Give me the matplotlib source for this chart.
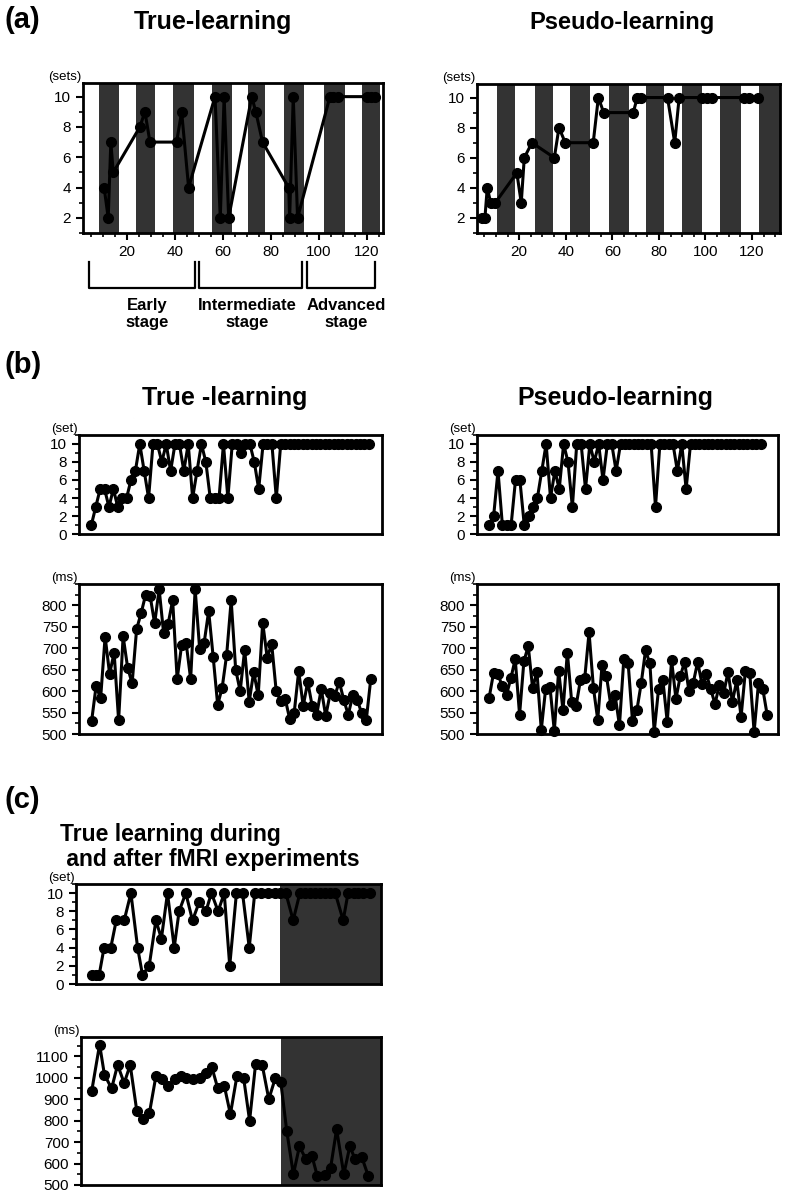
import matplotlib
matplotlib.use("Agg")
import matplotlib.pyplot as plt
from matplotlib.ticker import MultipleLocator

plt.rcParams['font.family'] = ['Liberation Sans', 'DejaVu Sans']

# ---- (a) true-learning: session number vs sets
a_true_x = [10.5, 12.2, 13.3, 14.3, 25.4, 27.5, 29.6, 40.7, 42.8, 45.7, 56.7, 58.9, 60.5, 62.4,
            72.0, 73.7, 76.5, 87.4, 87.8, 89.3, 91.1, 104.6, 106.0, 108.0, 119.9, 121.5, 123.3]
a_true_y = [4, 2, 7, 5, 8, 9, 7, 7, 9, 4, 10, 2, 10, 2, 10, 9, 7, 4, 2, 10, 2, 10, 10, 10, 10, 10, 10]
a_true_stripes = [(8.2, 16.5), (23.8, 31.7), (39.2, 47.9), (55.4, 63.9), (70.5, 77.5),
                  (85.3, 93.9), (102.1, 111.0), (118.0, 125.4)]

# ---- (a) pseudo-learning
a_pseudo_x = [4.2, 5.3, 6.3, 7.8, 9.7, 19.0, 20.9, 22.2, 25.5, 35.1, 37.1, 39.8, 51.8, 54.0,
              56.3, 69.0, 70.7, 72.5, 83.7, 86.8, 88.7, 98.3, 100.6, 103.0, 116.7, 118.8, 122.5]
a_pseudo_y = [2, 2, 4, 3, 3, 5, 3, 6, 7, 6, 8, 7, 7, 10, 9, 9, 10, 10, 10, 7, 10, 10, 10, 10, 10, 10, 10]
a_pseudo_stripes = [(10.5, 18.3), (26.6, 34.5), (42.0, 50.3), (58.4, 67.3), (74.3, 82.2),
                    (90.1, 98.4), (106.3, 115.3), (123.1, 132.0)]

stage_labels = ['Early\nstage', 'Intermediate\nstage', 'Advanced\nstage']

# ---- (b) trial series
b_true_sets = [1, 3, 5, 5, 3, 5, 3, 4, 4, 6, 7, 10, 7, 4, 10, 10, 8, 10, 7, 10, 10, 7, 10, 4, 7, 10,
               8, 4, 4, 4, 10, 4, 10, 10, 9, 10, 10, 8, 5, 10, 10, 10, 4] + [10] * 21
b_true_ms = [530, 612, 583, 727, 640, 690, 532, 728, 655, 618, 745, 782, 825, 822, 758, 838, 735,
             757, 812, 628, 708, 712, 628, 838, 698, 713, 787, 680, 568, 608, 685, 812, 650, 600,
             697, 575, 645, 590, 760, 678, 710, 600, 577, 582, 535, 550, 647, 565, 622, 565, 545,
             605, 542, 595, 588, 622, 580, 545, 590, 580, 548, 532, 628]
b_pseudo_sets = [1, 2, 7, 1, 1, 1, 6, 6, 1, 2, 3, 4, 7, 10, 4, 7, 5, 10, 8, 3, 10, 10, 5, 10, 8, 10,
                 6, 10, 10, 7] + [10] * 8 + [3] + [10] * 4 + [7, 10, 5] + [10] * 17
b_pseudo_ms = [585, 642, 640, 612, 592, 630, 675, 545, 670, 705, 607, 645, 510, 605, 610, 507, 648,
               555, 690, 575, 565, 625, 630, 737, 608, 533, 662, 635, 568, 590, 520, 675, 665, 530,
               555, 618, 695, 665, 505, 605, 625, 528, 672, 582, 635, 668, 600, 620, 668, 617, 640,
               605, 570, 615, 595, 645, 575, 625, 540, 648, 642, 505, 618, 605, 545]

# ---- (c) during / after fMRI
c_sets_x = [2.6, 3.3, 3.8, 4.6, 5.7, 6.6, 7.9, 9.0, 10.1, 10.9, 12.0, 13.1, 14.0, 15.0, 16.1, 16.9,
            18.0, 19.1, 20.2, 21.3, 22.2, 23.3, 24.3, 25.2, 26.3, 27.3, 28.4, 29.3, 30.4, 31.5,
            32.6, 33.4, 34.4, 35.6, 36.7, 37.5, 38.4, 39.2, 40.0, 40.8, 41.6, 42.5, 43.8, 44.6,
            45.5, 46.3, 47.1, 48.2]
c_sets = [1, 1, 1, 4, 4, 7, 7, 10, 4, 1, 2, 7, 5, 10, 4, 8, 10, 7, 9, 8, 10, 8, 10, 2, 10, 10, 4,
          10, 10, 10, 10, 10, 10, 7, 10, 10, 10, 10, 10, 10, 10, 10, 7, 10, 10, 10, 10, 10]
c_ms_x = [1.8, 3.1, 3.9, 5.1, 6.1, 7.2, 8.2, 9.3, 10.3, 11.4, 12.5, 13.5, 14.5, 15.6, 16.6, 17.5,
          18.6, 19.8, 20.8, 21.8, 22.8, 23.9, 24.9, 26.0, 27.1, 28.1, 29.1, 30.2, 31.3, 32.4,
          33.3, 34.3, 35.4, 36.4, 37.5, 38.5, 39.4, 40.6, 41.6, 42.6, 43.8, 44.8, 45.7, 46.8, 47.9]
c_ms = [940, 1155, 1015, 950, 1060, 975, 1060, 845, 810, 835, 1010, 995, 960, 995, 1010, 1000, 995,
        1000, 1020, 1050, 950, 960, 830, 1010, 1000, 800, 1065, 1060, 900, 1000, 980, 750, 550,
        680, 620, 635, 540, 545, 580, 760, 550, 680, 620, 630, 540]
c_shade = (33.4, 50)

DARK = '#333333'
W, H = 787, 1199
fig = plt.figure(figsize=(W / 100, H / 100), dpi=100)


def add_ax(x0, y0, x1, y1):
    return fig.add_axes([x0 / W, 1 - y1 / H, (x1 - x0) / W, (y1 - y0) / H])


def style(ax, unit):
    ax.tick_params(axis='y', which='major', direction='out', length=5, width=1.5, labelsize=11)
    ax.tick_params(axis='y', which='minor', direction='out', length=3, width=1.2)
    for s in ax.spines.values():
        s.set_linewidth(2)
    ax.text(-0.005, 1.0, unit, transform=ax.transAxes, ha='right', va='bottom', fontsize=9.5)


def series(ax, x, y):
    ax.plot(x, y, color='black', lw=2.2, marker='o', ms=7, zorder=3, clip_on=False)


def ptext(x, y, s, size, **kw):
    fig.text(x / W, 1 - y / H, s, fontsize=size, fontweight='bold', **kw)


# (a)
ptext(5, 20, '(a)', 21, va='center')
ptext(213, 22, 'True-learning', 18, ha='center', va='center')
ptext(622, 22, 'Pseudo-learning', 17, ha='center', va='center')

for rect, x, y, stripes, xlim in [((83, 83, 383, 233), a_true_x, a_true_y, a_true_stripes, (1.7, 126.7)),
                                  ((477, 84, 780, 233), a_pseudo_x, a_pseudo_y, a_pseudo_stripes, (1.9, 132))]:
    ax = add_ax(*rect)
    for lo, hi in stripes:
        ax.axvspan(lo, hi, color=DARK, lw=0, zorder=1)
    series(ax, x, y)
    ax.set_xlim(*xlim)
    ax.set_ylim(1, 10.9)
    ax.set_yticks([2, 4, 6, 8, 10])
    ax.yaxis.set_minor_locator(MultipleLocator(1))
    ax.set_xticks([20, 40, 60, 80, 100, 120])
    ax.xaxis.set_minor_locator(MultipleLocator(5))
    ax.tick_params(axis='x', which='major', direction='out', length=5, width=1.5, labelsize=11)
    ax.tick_params(axis='x', which='minor', direction='out', length=3, width=1.2)
    style(ax, '(sets)')

# stage brackets
for (bx0, bx1), label in zip([(89, 195), (199, 302), (307, 375)], stage_labels):
    fig.add_artist(plt.Line2D([bx0 / W, bx0 / W, bx1 / W, bx1 / W],
                              [1 - 262 / H, 1 - 288 / H, 1 - 288 / H, 1 - 262 / H],
                              color='black', lw=1.6))
ptext(147, 314, stage_labels[0], 12, ha='center', va='center', linespacing=1.1)
ptext(247, 314, stage_labels[1], 12, ha='center', va='center', linespacing=1.1)
ptext(346, 314, stage_labels[2], 12, ha='center', va='center', linespacing=1.1)

# (b)
ptext(5, 365, '(b)', 21, va='center')
ptext(225, 398, 'True -learning', 18, ha='center', va='center')
ptext(615, 398, 'Pseudo-learning', 18, ha='center', va='center')

for x0, x1, sets, ms in [(79, 382, b_true_sets, b_true_ms), (477, 778, b_pseudo_sets, b_pseudo_ms)]:
    ax = add_ax(x0, 435, x1, 534)
    n = len(sets)
    series(ax, range(n), sets)
    ax.set_xlim(-2.8, 66)
    ax.set_ylim(0, 11)
    ax.set_xticks([])
    ax.set_yticks(range(0, 11, 2))
    ax.yaxis.set_minor_locator(MultipleLocator(1))
    style(ax, '(set)')

    ax = add_ax(x0, 584, x1, 734)
    n = len(ms)
    series(ax, range(n), ms)
    ax.set_xlim(-2.8, n + 1.5)
    ax.set_ylim(500, 850)
    ax.set_xticks([])
    ax.set_yticks(range(500, 801, 50))
    ax.yaxis.set_minor_locator(MultipleLocator(25))
    style(ax, '(ms)')

# (c)
ptext(5, 800, '(c)', 21, va='center')
ptext(60, 847, 'True learning during\n and after fMRI experiments', 16.5, ha='left', va='center',
      linespacing=1.1)

ax = add_ax(76, 884, 381, 984)
ax.axvspan(*c_shade, color=DARK, lw=0, zorder=1)
series(ax, c_sets_x, c_sets)
ax.set_xlim(0, 50)
ax.set_ylim(0, 11)
ax.set_xticks([])
ax.set_yticks(range(0, 11, 2))
ax.yaxis.set_minor_locator(MultipleLocator(1))
style(ax, '(set)')

ax = add_ax(81, 1037, 381, 1185)
ax.axvspan(33.3, 50, color=DARK, lw=0, zorder=1)
series(ax, c_ms_x, c_ms)
ax.set_xlim(0, 50)
ax.set_ylim(500, 1190)
ax.set_xticks([])
ax.set_yticks(range(500, 1101, 100))
ax.yaxis.set_minor_locator(MultipleLocator(50))
style(ax, '(ms)')

fig.savefig('out.png', dpi=100)
